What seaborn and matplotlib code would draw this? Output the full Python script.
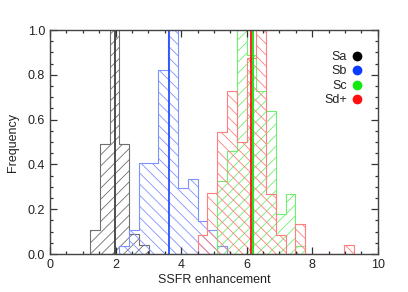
import numpy as np
import seaborn as sns
import matplotlib
matplotlib.use('Agg')
import matplotlib.pyplot as plt
from matplotlib.lines import Line2D
from matplotlib.ticker import MultipleLocator

# common bin grid (left edge of bin 0 and bin width)
bin0 = 1.22
bin_w = 0.2985

# histogram heights, starting bin index for each type
labels = ['Sa', 'Sb', 'Sc', 'Sd+']
start_bin = [0, 3, 13, 11]
heights = [
    [0.108, 0.49, 1.0, 0.49, 0.089, 0.041],
    [0.034, 0.108, 0.407, 0.407, 0.82, 1.0, 0.296, 0.333, 0.148, 0.108, 0.037],
    [0.324, 0.458, 1.0, 0.89, 0.73, 0.64, 0.18, 0.27, 0.035],
    [0.087, 0.273, 0.547, 0.73, 0.50, 0.875, 1.0, 0.27, 0.086, 0.0, 0.134,
     0.0, 0.0, 0.0, 0.0, 0.041],
]
medians = [1.99, 3.63, 6.18, 6.12]

hatches = ['///', '\\\\\\', '///', '\\\\\\']
hist_colors = ['#6e6e6e', '#7f93ff', '#70ee70', '#ff7f7f']
line_colors = ['#404040', '#2a50ff', '#10e010', '#ff1010']
dot_colors = ['black', '#0a3cff', '#10e810', '#ff1010']

plt.rcParams['font.family'] = ['Liberation Sans', 'DejaVu Sans']
plt.rcParams['hatch.linewidth'] = 0.6

fig = plt.figure(figsize=(4.08, 2.92), dpi=100)
ax = fig.add_axes([0.1225, 0.13, 0.8035, 0.767])

for i in range(4):
    h = np.array(heights[i])
    lo = bin0 + bin_w * start_bin[i]
    hi = lo + bin_w * len(h)
    centers = lo + bin_w * (np.arange(len(h)) + 0.5)
    sns.histplot(x=centers, weights=h, binwidth=bin_w, binrange=(lo, hi - 1e-6),
                 element='step', fill=True,
                 color=hist_colors[i], facecolor='none',
                 edgecolor=hist_colors[i], hatch=hatches[i],
                 linewidth=0.8, ax=ax)
    ax.axvline(medians[i], color=line_colors[i], lw=1.3)

ax.set_xlim(0, 10)
ax.set_ylim(0, 1.0)
ax.set_xlabel('SSFR enhancement', fontsize=9, labelpad=2, color='#222222')
ax.set_ylabel('Frequency', fontsize=9, labelpad=6, color='#222222')
ax.xaxis.set_major_locator(MultipleLocator(2))
ax.xaxis.set_minor_locator(MultipleLocator(0.5))
ax.yaxis.set_major_locator(MultipleLocator(0.2))
ax.yaxis.set_minor_locator(MultipleLocator(0.05))
ax.tick_params(which='both', direction='in', top=True, right=True,
               labelsize=9, color='#333333', width=0.9, labelcolor='#222222')
ax.tick_params(which='major', length=5)
ax.tick_params(which='minor', length=2.5)
for s in ax.spines.values():
    s.set_color('#444444')
    s.set_linewidth(1.0)

handles = [Line2D([], [], marker='o', ls='', color=c, markersize=6) for c in dot_colors]
leg = ax.legend(handles, labels, loc='upper right', bbox_to_anchor=(0.97, 0.935),
                frameon=False, markerfirst=False, fontsize=9, handletextpad=0.4,
                labelspacing=0.2, handlelength=0.8, borderpad=0)
for t in leg.get_texts():
    t.set_color('#222222')

fig.savefig('out.png', dpi=100)
